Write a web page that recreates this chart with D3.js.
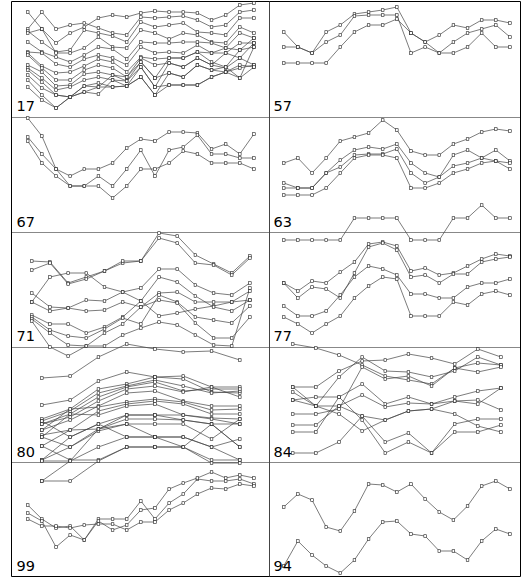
<!DOCTYPE html>
<html>
<head>
<meta charset="utf-8">
<script src="https://cdn.jsdelivr.net/npm/d3@7"></script>
<style>body{margin:0;background:#fff}</style>
</head>
<body>
<script>
// panel names, in reading order (left, right, left, right ...)
var names = ["17","57","67","63","71","77","80","84","99","94"]

// each panel: one array per line, values = depth below the panel top
var s17 = [
  [12,29,43,33,27,18,15,17,13,11,12,12,13,20,15,5,3],
  [29,12,29,25,23,28,33,35,17,18,17,16,20,27,25,12,10],
  [31,42,52,50,30,33,36,42,22,27,25,23,32,33,35,18,18],
  [33,29,53,53,48,37,47,48,30,33,39,33,35,42,43,27,33],
  [42,52,57,62,55,47,49,59,42,43,43,42,42,43,48,33,38],
  [52,53,64,67,59,55,58,65,47,53,52,53,45,53,53,43,43],
  [53,66,73,72,66,59,62,72,57,59,58,58,52,62,67,50,47],
  [55,68,80,80,70,65,68,77,58,65,63,67,58,65,68,58,65],
  [65,72,86,85,74,72,75,81,62,78,73,77,65,70,72,65,67],
  [68,78,90,87,80,77,80,86,67,87,85,85,85,77,72,68,65],
  [70,82,95,97,86,83,87,86,77,95,85,85,85,77,72,78,67],
  [75,88,95,97,92,87,87,86,77,95,73,77,65,70,67,78,47],
  [80,95,108,97,92,94,80,81,67,87,63,67,58,65,53,58,43],
  [87,100,108,97,86,87,75,77,62,78,58,58,52,53,48,50,38]
]
var s57 = [
  [32,47,53,32,25,14,12,10,7,33,42,35,25,28,20,20,23],
  [47,47,53,42,35,16,15,15,15,53,47,53,53,47,33,47,47],
  [63,63,63,63,47,32,25,25,19,33,42,53,42,33,29,25,37]
]
var s67 = [
  [2,20,53,60,53,53,47,32,23,25,16,16,17,33,28,38,18],
  [21,38,53,70,70,60,70,53,34,60,34,31,19,38,38,42,42],
  [25,47,60,70,70,70,82,70,53,53,47,35,38,47,47,47,53]
]
var s63 = [
  [47,42,57,42,25,21,17,4,14,35,39,39,28,23,16,13,15],
  [67,72,72,57,44,34,31,33,28,47,57,61,39,34,42,34,45],
  [72,72,72,57,51,39,38,38,33,57,67,61,50,47,42,45,47],
  [79,79,79,72,57,42,39,39,42,72,72,67,57,53,47,45,53],
  [124,124,124,124,124,102,102,102,102,124,124,124,102,102,89,102,102]
]
var s71 = [
  [31,32,53,47,41,33,31,3,6,25,34,43,26],
  [40,33,54,49,41,31,31,8,13,33,35,45,28],
  [72,47,43,43,57,62,71,86,83,79,76,72,70],
  [63,77,78,70,71,62,58,39,39,55,63,65,53],
  [72,81,78,81,80,72,77,63,62,72,72,72,61],
  [85,94,94,103,97,87,71,47,52,66,77,81,70],
  [87,100,106,108,99,88,94,65,72,87,90,93,76],
  [89,103,115,116,103,94,77,70,73,93,108,108,87],
  [91,117,126,116,116,105,98,92,95,105,115,116,58]
]
var s77 = [
  [53,61,51,53,42,32,14,12,16,41,38,45,43,36,29,24,26],
  [53,68,57,59,68,43,17,13,20,47,45,53,44,44,32,29,27],
  [76,86,86,81,65,47,36,39,45,64,64,68,68,57,53,53,49],
  [87,94,103,94,86,68,56,47,49,86,86,86,72,75,64,61,65]
]
var s80 = [
  [34,32,13,0,5,8,7,16],
  [61,56,37,28,33,32,43,43],
  [75,65,45,40,33,35,48,49],
  [77,67,49,42,36,42,49,47],
  [80,70,53,43,38,47,45,45],
  [80,73,57,45,42,48,43,53],
  [86,76,62,49,47,57,62,62],
  [86,65,63,58,55,58,66,65],
  [91,86,67,60,57,60,70,70],
  [93,70,71,62,60,71,74,75],
  [77,93,80,71,71,71,75,80],
  [102,86,85,75,75,76,80,80],
  [93,103,87,80,80,80,95,75],
  [116,93,80,93,93,93,103,95],
  [102,116,116,103,103,103,80,103],
  [116,103,85,80,93,103,116,116],
  [117,117,103,93,93,93,103,116],
  [137,117,85,71,71,76,80,103],
  [137,137,117,103,103,103,119,119]
]
var s84 = [
  [0,4,11,21,32,36,40,24,19,21],
  [43,43,27,17,16,10,14,20,5,13],
  [43,62,33,13,27,28,33,27,13,21],
  [48,62,70,87,76,67,65,70,82,88],
  [56,53,53,40,60,53,60,53,47,44],
  [56,62,62,51,63,59,60,57,56,66],
  [70,70,65,23,35,32,42,24,28,23],
  [81,81,62,72,98,89,109,80,75,75],
  [88,88,53,76,109,98,109,88,88,81],
  [109,109,98,72,76,67,65,57,60,44]
]
var s99 = [
  [48,62,71,69,83,62,62,62,44,62,46,37,22,24,24,22,27],
  [56,64,90,78,83,64,73,68,53,51,32,26,21,15,21,18,21],
  [62,69,69,71,68,67,67,73,65,65,53,46,37,31,32,27,29]
]
var s94 = [
  [50,37,43,70,74,54,27,28,35,27,42,55,63,49,29,24,32],
  [109,84,98,109,116,103,82,65,64,77,79,94,94,103,84,72,77]
]

var panels = [s17,s57,s67,s63,s71,s77,s80,s84,s99,s94]

var colX = [13.6, 269.6], plotW = 254.5
var rowTop = [0, 116, 230, 344, 457]
var labelY = [110.5, 111, 111, 113, 114]

var svg = d3.select("body")
  .append("svg")
  .attr("width", 523)
  .attr("height", 577)

// frame
var hLines = [1.5, 117.5, 232.5, 347.5, 462.5, 576.5]
var vLines = [11.5, 269.5, 520.5]
svg.selectAll("line.h")
  .data(hLines).enter()
  .append("line")
  .attr("x1", 11.5).attr("x2", 520.5)
  .attr("y1", function(d) {return d})
  .attr("y2", function(d) {return d})
  .attr("stroke", function(d,i) {return (i == 0 || i == hLines.length-1) ? "#000" : "#888"})
  .attr("stroke-width", 1)
svg.selectAll("line.v")
  .data(vLines).enter()
  .append("line")
  .attr("y1", 1.5).attr("y2", 576.5)
  .attr("x1", function(d) {return d})
  .attr("x2", function(d) {return d})
  .attr("stroke", function(d,i) {return i == 1 ? "#444" : "#000"})
  .attr("stroke-width", 1)

panels.forEach(function(series, i) {
  var col = i % 2, row = Math.floor(i / 2)
  var n = series[0].length
  var x = d3.scalePoint()
    .domain(d3.range(n))
    .range([colX[col], colX[col] + plotW])
    .padding(1)
  var y = d3.scaleLinear()
    .domain([0, 100])
    .range([rowTop[row], rowTop[row] + 100])

  var line = d3.line()
    .x(function(d,j) {return x(j)})
    .y(function(d) {return y(d)})

  var g = svg.append("g")

  g.selectAll("path")
    .data(series).enter()
    .append("path")
    .attr("d", line)
    .attr("fill", "none")
    .attr("stroke", "#444")
    .attr("stroke-width", 0.7)

  series.forEach(function(s) {
    g.selectAll(null)
      .data(s).enter()
      .append("rect")
      .attr("x", function(d,j) {return x(j) - 1.3})
      .attr("y", function(d) {return y(d) - 1.3})
      .attr("width", 2.6)
      .attr("height", 2.6)
      .attr("fill", "#fff")
      .attr("stroke", "#222")
      .attr("stroke-width", 0.6)
  })

  svg.append("text")
    .text(names[i])
    .attr("x", col == 0 ? 16.5 : 273.5)
    .attr("y", rowTop[row] + labelY[row])
    .attr("font-family", "DejaVu Sans, sans-serif")
    .attr("font-size", "14.5px")
    .attr("fill", "#000")
})
</script>
</body>
</html>
